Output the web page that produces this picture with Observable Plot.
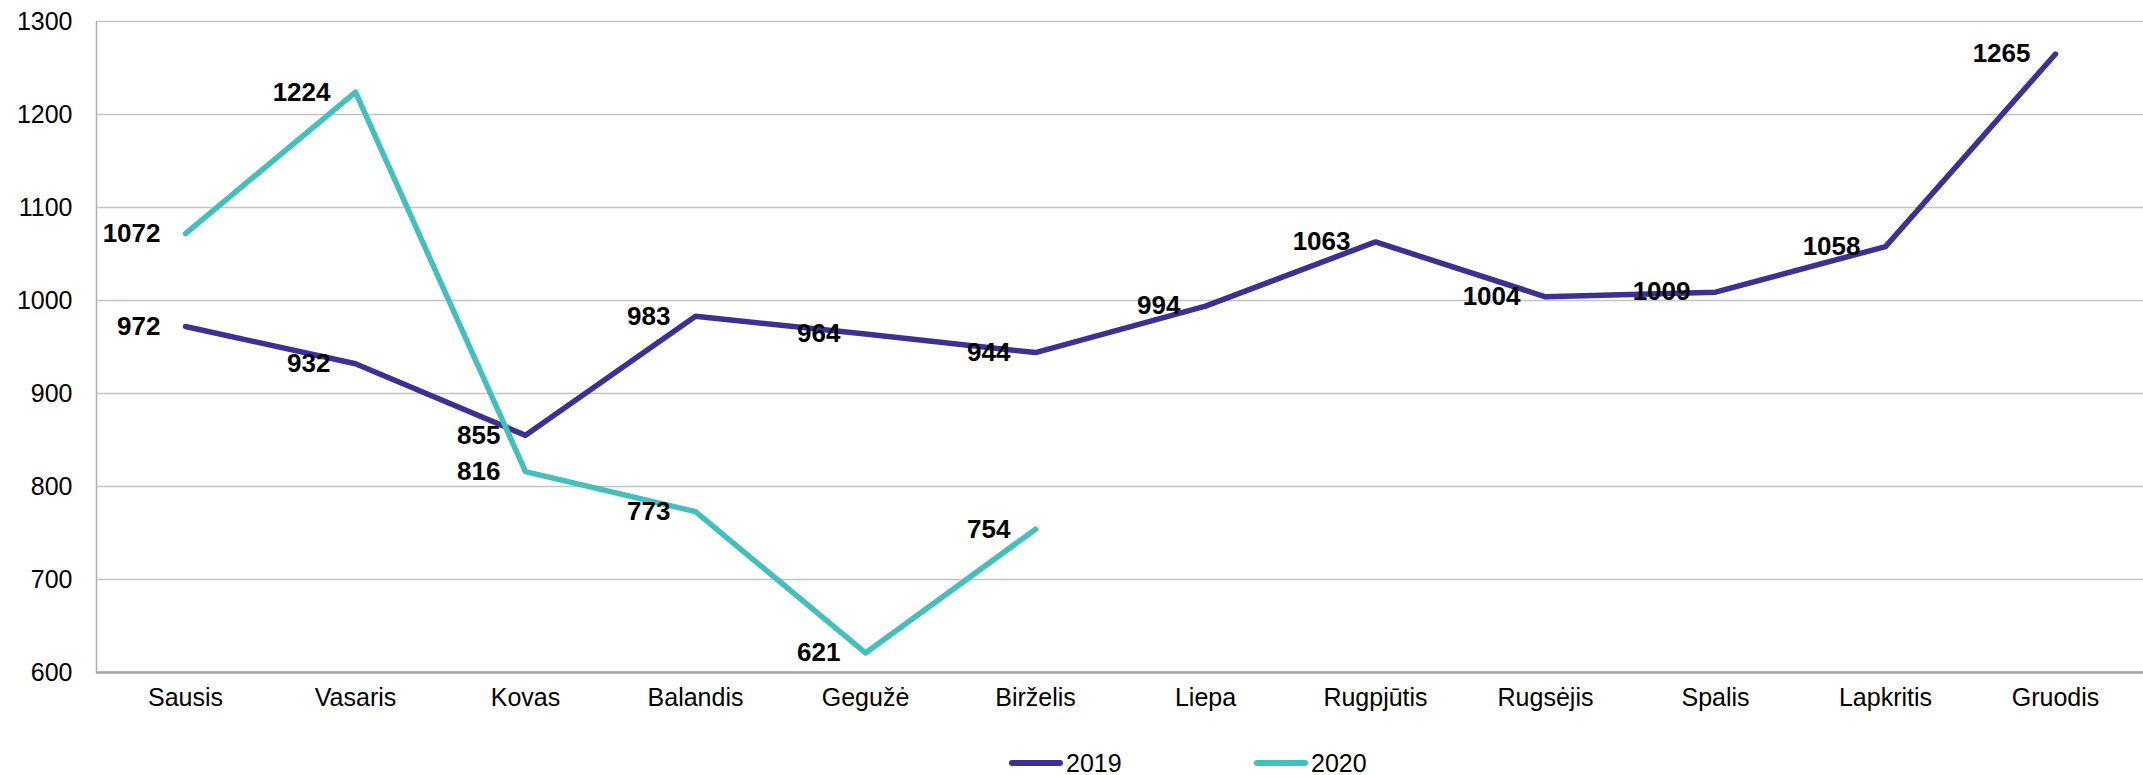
<!DOCTYPE html>
<html>
<head>
<meta charset="utf-8">
<script src="https://cdn.jsdelivr.net/npm/d3@7"></script>
<script src="https://cdn.jsdelivr.net/npm/@observablehq/plot@0.6"></script>
<style>
  html, body { margin: 0; padding: 0; background: white; }
  #chart { width: 2143px; font-family: "Liberation Sans", Arial, sans-serif; color: black; }
  #legend { position: relative; height: 40px; width: 2143px; font-family: "Liberation Sans", Arial, sans-serif; font-size: 25px; }
  .item { position: absolute; top: 0; height: 40px; display: flex; align-items: center; padding-top: 16px; box-sizing: border-box; }
  .swatch { width: 54px; height: 6px; border-radius: 3px; margin-right: 3px; }
</style>
</head>
<body>
<div id="chart"></div>
<div id="legend"></div>
<script>
const months = ["Sausis","Vasaris","Kovas","Balandis","Gegužė","Birželis","Liepa","Rugpjūtis","Rugsėjis","Spalis","Lapkritis","Gruodis"];
const values2019 = [972, 932, 855, 983, 964, 944, 994, 1063, 1004, 1009, 1058, 1265];
const values2020 = [1072, 1224, 816, 773, 621, 754];
const seriesNames = ["2019", "2020"];
const seriesColors = ["#3a3192", "#45bfbb"];
const yTicks = [600, 700, 800, 900, 1000, 1100, 1200, 1300];

const data = [
  ...values2019.map((v, i) => ({month: months[i], value: v, series: "2019"})),
  ...values2020.map((v, i) => ({month: months[i], value: v, series: "2020"}))
];

const chart = Plot.plot({
  width: 2143,
  height: 735,
  marginLeft: 96,
  marginRight: 0,
  marginTop: 21,
  marginBottom: 63,
  style: {fontFamily: "Liberation Sans, Arial, sans-serif", fontSize: "25px", background: "white", color: "black"},
  x: {type: "point", domain: months, padding: 0.5, axis: null},
  y: {domain: [600, 1300], axis: null},
  color: {domain: seriesNames, range: seriesColors},
  marks: [
    Plot.gridY(yTicks, {stroke: "#c4c4c4", strokeOpacity: 1, strokeWidth: 1.5}),
    Plot.frame({anchor: "left", stroke: "#b0b0b0", strokeWidth: 1.5}),
    Plot.ruleY([600], {stroke: "#a6a6a6", strokeWidth: 2.5}),
    Plot.axisY({ticks: yTicks, tickSize: 0, tickPadding: 24, tickFormat: d => String(d), label: null, fontSize: 25, fill: "black"}),
    Plot.text(months, {x: d => d, frameAnchor: "bottom", dy: 33, fontSize: 25, fill: "black"}),
    Plot.line(data, {x: "month", y: "value", z: "series", stroke: "series", strokeWidth: 5.5, strokeLinecap: "round", strokeLinejoin: "round"}),
    Plot.text(data, {x: "month", y: "value", text: d => String(d.value), textAnchor: "end", dx: -25, fontWeight: "bold", fontSize: 26, fill: "black"})
  ]
});
document.getElementById("chart").appendChild(chart);

const legend = document.getElementById("legend");
const legendLeft = [1009, 1254];
seriesNames.forEach((name, i) => {
  const item = document.createElement("div");
  item.className = "item";
  item.style.left = legendLeft[i] + "px";
  const sw = document.createElement("div");
  sw.className = "swatch";
  sw.style.background = seriesColors[i];
  const label = document.createElement("span");
  label.textContent = name;
  item.appendChild(sw);
  item.appendChild(label);
  legend.appendChild(item);
});
</script>
</body>
</html>
